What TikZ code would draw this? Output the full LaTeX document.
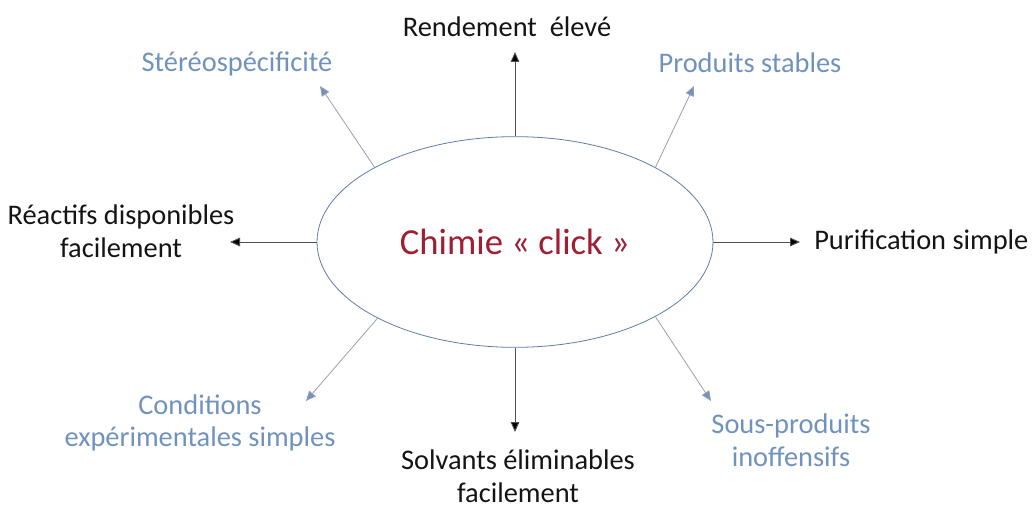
\documentclass[tikz,border=0pt]{standalone}
\usepackage{fontspec}
\setmainfont{Carlito}
\usetikzlibrary{arrows.meta,shapes.geometric}
\definecolor{lblue}{RGB}{112,146,190}
\definecolor{ellblue}{RGB}{95,125,165}
\definecolor{clickred}{RGB}{160,30,50}
\definecolor{darkline}{RGB}{80,80,80}
\definecolor{lightline}{RGB}{150,160,175}
\definecolor{txt}{RGB}{20,20,20}
\tikzset{
  lbl/.style={font=\fontsize{21.3}{24.5}\selectfont, align=center, inner sep=0pt, text=txt},
  blbl/.style={lbl, text=lblue},
  darrow/.style={draw=darkline, line width=0.7pt, -{Triangle[length=7.5pt,width=6.5pt,fill=black]}},
  larrow/.style={draw=lightline, line width=0.6pt, -{Triangle[length=7.5pt,width=6.5pt,fill=lblue]}}
}
\begin{document}
\begin{tikzpicture}[x=0.75pt,y=-0.75pt]
\useasboundingbox (0,0) rectangle (1033,506);
\node[ellipse, draw=ellblue, line width=0.6pt, minimum width=297pt, minimum height=158pt, inner sep=0pt,
  font=\fontsize{27.5}{33}\selectfont, text=clickred] (c) at (515,242) {Chimie « click »};
\coordinate (tU) at (515,52);
\coordinate (tR) at (800,242);
\coordinate (tL) at (230,242);
\coordinate (tD) at (515,432);
\coordinate (tUL) at (320,86);
\coordinate (tUR) at (694,86);
\coordinate (tLL) at (306,401);
\coordinate (tLR) at (711,401);
\node[lbl] (nU) at (507,27) {Rendement\ \ élevé};
\node[lbl, anchor=west] (nR) at (814,242) {Purification simple};
\node[lbl] (nL) at (121,231) {Réactifs disponibles\\facilement};
\node[blbl] (nUL) at (237,64) {Stéréospécificité};
\node[blbl] (nUR) at (750,63) {Produits stables};
\node[blbl] (nLL) at (200,423) {Conditions\\expérimentales simples};
\node[blbl] (nLR) at (791,440) {Sous-produits\\inoffensifs};
\node[lbl] (nD) at (518,476) {Solvants éliminables\\facilement};
\draw[darrow] (c.north) -- (tU);
\draw[darrow] (c.east) -- (tR);
\draw[darrow] (c.west) -- (tL);
\draw[darrow] (c.south) -- (tD);
\draw[larrow] (c.152) -- (tUL);
\draw[larrow] (c.28) -- (tUR);
\draw[larrow] (c.209) -- (tLL);
\draw[larrow] (c.332) -- (tLR);
\end{tikzpicture}
\end{document}
